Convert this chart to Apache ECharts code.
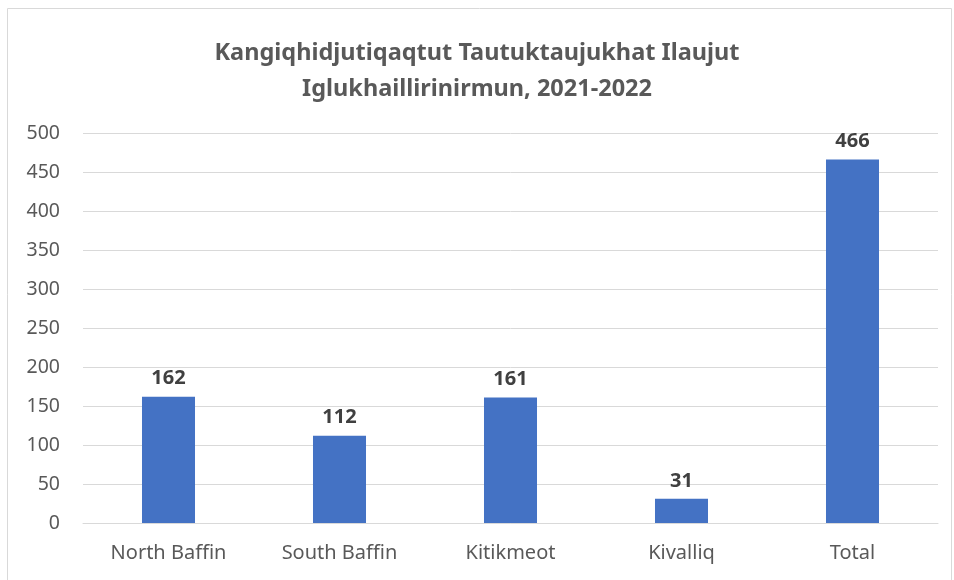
<!DOCTYPE html>
<html>
<head>
<meta charset="utf-8">
<script src="https://cdn.jsdelivr.net/npm/echarts@6/dist/echarts.min.js"></script>
<style>
    html, body { margin: 0; padding: 0; background: #fff; }
    #chart { width: 954px; height: 580px; }
</style>
</head>
<body>
<div id="chart"></div>
<script>
    // 数据
    var categories = ['North Baffin', 'South Baffin', 'Kitikmeot', 'Kivalliq', 'Total'];
    var values = [162, 112, 161, 31, 466];
    var titleText = 'Kangiqhidjutiqaqtut Tautuktaujukhat Ilaujut\nIglukhaillirinirmun, 2021-2022';

    var myChart = echarts.init(document.getElementById('chart'));
    var font = '"Noto Sans", "Open Sans", sans-serif';
    var option = {
        animation: false,
        graphic: [{
            type: 'rect',
            shape: { x: 7.5, y: 8.5, width: 944, height: 580 },
            style: { fill: 'none', stroke: '#d9d9d9', lineWidth: 1 }
        }],
        title: {
            text: titleText,
            left: 'center',
            top: 30,
            textStyle: {
                color: '#595959',
                fontSize: 23.5,
                fontWeight: 'bold',
                fontFamily: font,
                lineHeight: 36
            }
        },
        grid: {
            left: 83,
            right: 16,
            top: 133,
            bottom: 57
        },
        xAxis: {
            type: 'category',
            data: categories,
            axisTick: { show: false },
            axisLine: { lineStyle: { color: '#d9d9d9', width: 1 } },
            axisLabel: {
                color: '#595959',
                fontSize: 20,
                fontFamily: font,
                margin: 20
            }
        },
        yAxis: {
            type: 'value',
            min: 0,
            max: 500,
            interval: 50,
            axisLine: { show: false },
            axisTick: { show: false },
            splitLine: { lineStyle: { color: '#d9d9d9', width: 1 } },
            axisLabel: {
                color: '#595959',
                fontSize: 19.5,
                fontFamily: font,
                margin: 23
            }
        },
        series: [{
            type: 'bar',
            data: values,
            barWidth: '31%',
            itemStyle: { color: '#4472c4' },
            label: {
                show: true,
                position: 'top',
                distance: 8,
                color: '#404040',
                fontSize: 20,
                fontWeight: 'bold',
                fontFamily: font
            }
        }]
    };
    myChart.setOption(option);
</script>
</body>
</html>
